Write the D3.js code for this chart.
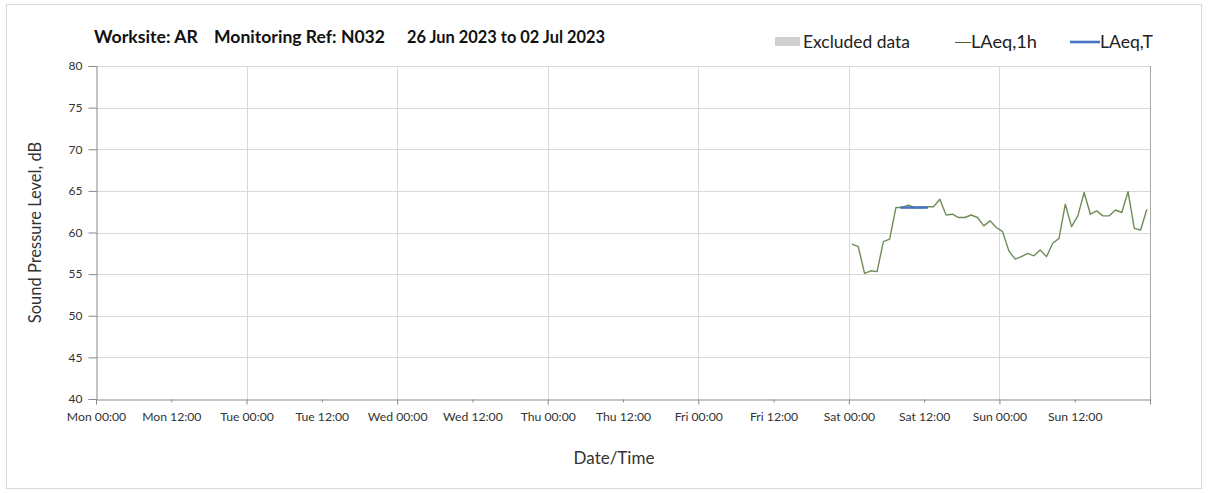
<!DOCTYPE html>
<html>
<head>
<meta charset="utf-8">
<script src="https://cdn.jsdelivr.net/npm/d3@7"></script>
<style>
  html, body { margin: 0; padding: 0; background: #fff; }
  svg { display: block; font-family: Lato, "Open Sans", sans-serif; }
</style>
</head>
<body>
<svg id="chart" width="1208" height="493"></svg>
<script>
// ---- data ----
const domainStart = "2023-06-26T00:00:00Z";
const domainEnd = "2023-07-03T00:00:00Z";
const tickLabels = ["Mon 00:00","Mon 12:00","Tue 00:00","Tue 12:00","Wed 00:00","Wed 12:00","Thu 00:00","Thu 12:00","Fri 00:00","Fri 12:00","Sat 00:00","Sat 12:00","Sun 00:00","Sun 12:00"];
const yTicks = [40,45,50,55,60,65,70,75,80];
const laeq1hTimes = [
  "2023-07-01T00:30","2023-07-01T01:30","2023-07-01T02:30","2023-07-01T03:30","2023-07-01T04:30","2023-07-01T05:30",
  "2023-07-01T06:30","2023-07-01T07:30","2023-07-01T08:30","2023-07-01T09:30","2023-07-01T10:30","2023-07-01T11:30",
  "2023-07-01T12:30","2023-07-01T13:30","2023-07-01T14:30","2023-07-01T15:30","2023-07-01T16:30","2023-07-01T17:30",
  "2023-07-01T18:30","2023-07-01T19:30","2023-07-01T20:30","2023-07-01T21:30","2023-07-01T22:30","2023-07-01T23:30",
  "2023-07-02T00:30","2023-07-02T01:30","2023-07-02T02:30","2023-07-02T03:30","2023-07-02T04:30","2023-07-02T05:30",
  "2023-07-02T06:30","2023-07-02T07:30","2023-07-02T08:30","2023-07-02T09:30","2023-07-02T10:30","2023-07-02T11:30",
  "2023-07-02T12:30","2023-07-02T13:30","2023-07-02T14:30","2023-07-02T15:30","2023-07-02T16:30","2023-07-02T17:30",
  "2023-07-02T18:30","2023-07-02T19:30","2023-07-02T20:30","2023-07-02T21:30","2023-07-02T22:30","2023-07-02T23:30"
];
const laeq1hValues = [
  58.6,58.3,55.1,55.4,55.3,58.9,59.2,63.0,63.0,63.3,63.0,63.0,
  63.1,63.1,64.0,62.1,62.2,61.8,61.8,62.1,61.8,60.8,61.4,60.6,
  60.1,57.8,56.8,57.1,57.5,57.2,57.9,57.1,58.7,59.3,63.4,60.7,
  62.0,64.8,62.2,62.6,62.0,62.0,62.7,62.4,64.9,60.5,60.3,62.8
];
const laeqTTimes = ["2023-07-01T08:15","2023-07-01T12:35"];
const laeqTValues = [63.0,63.0];
const titleParts = ["Worksite: AR","Monitoring Ref: N032","26 Jun 2023 to 02 Jul 2023"];
const legendLabels = ["Excluded data","LAeq,1h","LAeq,T"];
const yTitle = "Sound Pressure Level, dB";
const xTitle = "Date/Time";

// ---- drawing ----
const svg = d3.select("#chart");
const m = {left: 96, right: 1150, top: 66, bottom: 399};
const parse = s => new Date(s.endsWith("Z") ? s : s + ":00Z");
const FONT = "Lato, sans-serif";

const x = d3.scaleUtc().domain([parse(domainStart), parse(domainEnd)]).range([m.left, m.right]);
const y = d3.scaleLinear().domain([40, 80]).range([m.bottom, m.top]);

// outer border
svg.append("rect").attr("x", 6.5).attr("y", 4.5).attr("width", 1195).attr("height", 484)
  .attr("fill", "none").attr("stroke", "#d9d9d9").attr("stroke-width", 1);

const gridColor = "#d9d9d9", axisColor = "#898989";
const majorTicks = d3.utcDay.range(parse(domainStart), d3.utcDay.offset(parse(domainEnd), 1));
const allTicks = d3.utcHour.every(12).range(parse(domainStart), parse(domainEnd));

// horizontal grid
svg.append("g").selectAll("line").data(yTicks.filter(v => v > 40)).join("line")
  .attr("x1", m.left).attr("x2", m.right)
  .attr("y1", d => Math.round(y(d)) + 0.5).attr("y2", d => Math.round(y(d)) + 0.5)
  .attr("stroke", gridColor).attr("stroke-width", 1);
// vertical grid at day boundaries
svg.append("g").selectAll("line").data(majorTicks.slice(1, -1)).join("line")
  .attr("x1", d => Math.round(x(d)) + 0.5).attr("x2", d => Math.round(x(d)) + 0.5)
  .attr("y1", m.top).attr("y2", m.bottom)
  .attr("stroke", gridColor).attr("stroke-width", 1);

// right border
svg.append("line").attr("x1", m.right + 0.5).attr("x2", m.right + 0.5)
  .attr("y1", m.top).attr("y2", m.bottom + 5).attr("stroke", "#a6a6a6");

// y axis
const yAxis = d3.axisLeft(y).tickValues(yTicks).tickSize(8).tickPadding(6).tickFormat(d3.format("d"));
const gy = svg.append("g").attr("transform", `translate(${m.left + 0.5},0)`).call(yAxis);
gy.select(".domain").attr("stroke", axisColor);
gy.selectAll(".tick line").attr("stroke", axisColor);
gy.selectAll(".tick text").attr("font-size", 12).attr("fill", "#333").attr("font-family", FONT);

// x axis
const xAxis = d3.axisBottom(x).tickValues(allTicks).tickSizeOuter(0)
  .tickFormat((d, i) => tickLabels[i]).tickPadding(7);
const gx = svg.append("g").attr("transform", `translate(0,${m.bottom + 0.5})`).call(xAxis);
gx.select(".domain").attr("stroke", axisColor);
gx.selectAll(".tick line").attr("stroke", axisColor)
  .attr("y2", d => d.getUTCHours() === 0 ? 5 : 3);
gx.selectAll(".tick text").attr("font-size", 12.2).attr("fill", "#333").attr("font-family", FONT);
// final tick at end of range
gx.append("line").attr("x1", x(parse(domainEnd)) + 0.5).attr("x2", x(parse(domainEnd)) + 0.5)
  .attr("y1", 0).attr("y2", 5).attr("stroke", axisColor);

// lines
const lineGen = d3.line().x(d => x(d.t)).y(d => y(d.v));
const d1h = laeq1hTimes.map((t, i) => ({t: parse(t), v: laeq1hValues[i]}));
svg.append("path").datum(d1h).attr("d", lineGen)
  .attr("fill", "none").attr("stroke", "#6f8d58").attr("stroke-width", 1.4).attr("stroke-linejoin", "round");
const dT = laeqTTimes.map((t, i) => ({t: parse(t), v: laeqTValues[i]}));
svg.append("path").datum(dT).attr("d", lineGen)
  .attr("fill", "none").attr("stroke", "#4472c4").attr("stroke-width", 2.6);

// title
const titleX = [94, 214, 407];
const titleW = [104, 171, 198];
svg.append("g").selectAll("text").data(titleParts).join("text")
  .attr("x", (d, i) => titleX[i]).attr("y", 43)
  .attr("font-size", 16.5).attr("font-weight", "bold").attr("fill", "#111")
  .attr("font-family", FONT)
  .attr("textLength", (d, i) => titleW[i]).attr("lengthAdjust", "spacingAndGlyphs")
  .text(d => d);

// legend
const lg = svg.append("g").attr("font-size", 16.5).attr("fill", "#222").attr("font-family", FONT);
lg.append("rect").attr("x", 775).attr("y", 37).attr("width", 25).attr("height", 9).attr("fill", "#d0d0d0");
lg.append("text").attr("x", 803).attr("y", 48).attr("textLength", 107).attr("lengthAdjust", "spacingAndGlyphs").text(legendLabels[0]);
lg.append("line").attr("x1", 955).attr("x2", 971).attr("y1", 42.5).attr("y2", 42.5).attr("stroke", "#4f6228").attr("stroke-width", 1);
lg.append("text").attr("x", 971).attr("y", 48).attr("textLength", 66).attr("lengthAdjust", "spacingAndGlyphs").text(legendLabels[1]);
lg.append("line").attr("x1", 1070).attr("x2", 1100).attr("y1", 42).attr("y2", 42).attr("stroke", "#4472c4").attr("stroke-width", 2.6);
lg.append("text").attr("x", 1100).attr("y", 48).attr("textLength", 53).attr("lengthAdjust", "spacingAndGlyphs").text(legendLabels[2]);

// axis titles
svg.append("text").attr("transform", `translate(41,${(m.top + m.bottom) / 2}) rotate(-90)`)
  .attr("text-anchor", "middle").attr("font-size", 16.5).attr("fill", "#333")
  .attr("font-family", FONT).text(yTitle);
svg.append("text").attr("x", 614).attr("y", 464).attr("text-anchor", "middle")
  .attr("font-size", 17).attr("fill", "#333").attr("font-family", FONT).text(xTitle);
</script>
</body>
</html>
